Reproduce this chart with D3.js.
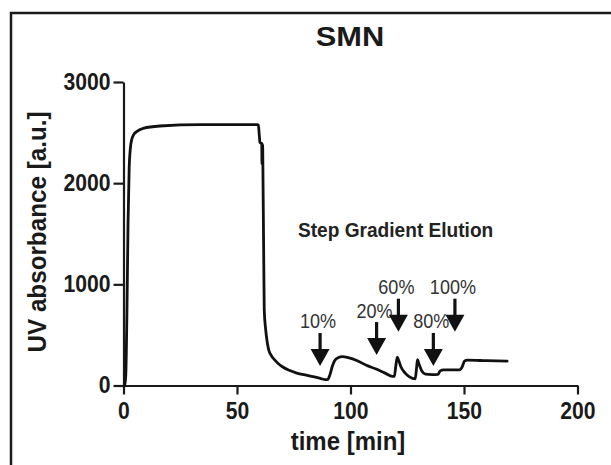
<!DOCTYPE html>
<html>
<head>
<meta charset="utf-8">
<script src="https://cdn.jsdelivr.net/npm/d3@7"></script>
<style>
  html, body { margin: 0; padding: 0; background: #fff; }
  svg { display: block; }
  text { font-family: "Liberation Sans", Arial, Helvetica, sans-serif; }
</style>
</head>
<body>
<svg id="chart" width="611" height="465"></svg>
<script>
// ---- data ----
const title = "SMN";
const xLabel = "time [min]";
const yLabel = "UV absorbance [a.u.]";
const annotationTitle = "Step Gradient Elution";
const xTicks = [0, 50, 100, 150, 200];
const yTicks = [0, 1000, 2000, 3000];

const timeMin = [0.5, 1.0, 1.5, 2.0, 2.5, 3.0, 3.6, 4.5, 5.8, 8.7, 16, 34, 59.0, 59.4, 59.8, 60.1, 60.6,
  60.9, 61.0, 61.1, 61.2, 61.3, 61.4, 61.6, 61.8, 62.0, 62.6, 63.3, 64.0, 65.0, 66.5, 68.0, 70.0,
  73.0, 76.0, 80.0, 84.0, 87.0, 89.0, 90.0, 91.0, 92.0, 93.0, 94.5, 96.5, 99.0, 103, 107, 111, 115,
  118.5, 119.3, 120.0, 120.6, 121.2, 122.2, 124, 126, 128.5, 129.0, 129.5, 130.2, 131.5, 133, 136,
  138.5, 139.5, 141, 148, 149.3, 150.2, 151.5, 160, 169];
const absorbance = [0, 100, 700, 1600, 2150, 2340, 2430, 2480, 2509, 2542, 2565, 2578, 2578, 2575, 2480, 2405, 2395,
  2390, 2190, 2390, 2200, 2380, 2180, 1700, 1200, 750, 560, 430, 350, 300, 255, 220, 185,
  150, 125, 105, 85, 68, 58, 60, 110, 190, 245, 275, 285, 275, 245, 200, 165, 125,
  90, 90, 200, 280, 250, 185, 125, 85, 65, 150, 255, 210, 140, 112, 108,
  110, 145, 155, 155, 190, 240, 250, 245, 240];

const stepLabels = ["10%", "20%", "60%", "80%", "100%"];
const stepTimes = [86.6, 111.5, 121.1, 136.5, 146.0];
const stepTipValues = [193, 301, 532, 193, 532];

// ---- layout ----
const svg = d3.select("#chart");
const x = d3.scaleLinear().domain([0, 200]).range([123.5, 577.5]);
const y = d3.scaleLinear().domain([0, 3000]).range([385.5, 82]);

// helper: horizontally condensed text (mimics the narrow Helvetica of the original)
function condensedText(parent, px, py, str, size, sx, opts = {}) {
  return parent.append("text")
    .attr("transform", `translate(${px},${py}) scale(${sx},1)`)
    .attr("text-anchor", opts.anchor || "start")
    .attr("font-size", size)
    .attr("font-weight", opts.weight || "normal")
    .attr("fill", opts.fill || "#1a1a1a")
    .text(str);
}

// outer frame
svg.append("path")
  .attr("d", "M11,466 L11,13 L612,13")
  .attr("fill", "none").attr("stroke", "#1a1a1a").attr("stroke-width", 2.5);

// title
condensedText(svg, 350, 46, title, 28, 1.1, { anchor: "middle", weight: "bold" });

// axes
const xAxis = d3.axisBottom(x).tickValues(xTicks).tickSizeInner(9).tickSizeOuter(0).tickPadding(8)
  .tickFormat(d3.format("d"));
const yAxis = d3.axisLeft(y).tickValues(yTicks).tickSizeInner(10).tickSizeOuter(0).tickPadding(3)
  .tickFormat(d3.format("d"));

const gx = svg.append("g").attr("transform", `translate(0,${y(0)})`).call(xAxis);
const gy = svg.append("g").attr("transform", `translate(${x(0)},0)`).call(yAxis);
const tickSx = 0.92;
[gx, gy].forEach(g => {
  g.selectAll("path, line").attr("stroke", "#1a1a1a").attr("stroke-width", 2.2);
  g.selectAll("text").each(function () {
    const t = d3.select(this);
    const ox = +t.attr("x") || 0;
    t.attr("x", ox / tickSx).attr("transform", `scale(${tickSx},1)`);
  })
    .attr("font-size", 23).attr("font-weight", "bold").attr("fill", "#1a1a1a")
    .attr("font-family", "'Liberation Sans', Arial, sans-serif");
});

// axis labels
condensedText(svg, 348, 450, xLabel, 25, 0.96, { anchor: "middle", weight: "bold" });
svg.append("text").attr("transform", "translate(46,232) rotate(-90) scale(0.97,1)").attr("text-anchor", "middle")
  .attr("font-size", 25).attr("font-weight", "bold").attr("fill", "#1a1a1a").text(yLabel);

// trace
const pts = timeMin.map((t, i) => [t, absorbance[i]]);
const line = d3.line().x(d => x(d[0])).y(d => y(d[1])).curve(d3.curveMonotoneX);
svg.append("path").datum(pts).attr("d", line)
  .attr("fill", "none").attr("stroke", "#111").attr("stroke-width", 2.8)
  .attr("stroke-linejoin", "round").attr("stroke-linecap", "round");

// annotation title
condensedText(svg, 298, 237, annotationTitle, 19.5, 0.98, { weight: "bold", fill: "#222" });

// arrows + labels
const arrowLen = 33, headH = 17, headW = 19, shaftW = 3.2;
const ann = svg.append("g");
stepLabels.forEach((lab, i) => {
  const ax = x(stepTimes[i]);
  const tip = y(stepTipValues[i]);
  const top = tip - arrowLen;
  ann.append("rect").attr("x", ax - shaftW / 2).attr("y", top).attr("width", shaftW)
    .attr("height", arrowLen - headH + 1).attr("fill", "#111");
  ann.append("path")
    .attr("d", `M${ax - headW / 2},${tip - headH} L${ax + headW / 2},${tip - headH} L${ax},${tip} Z`)
    .attr("fill", "#111");
  condensedText(ann, ax - 2, top - 4.5, lab, 21, 0.86, { anchor: "middle", fill: "#333" });
});
</script>
</body>
</html>
